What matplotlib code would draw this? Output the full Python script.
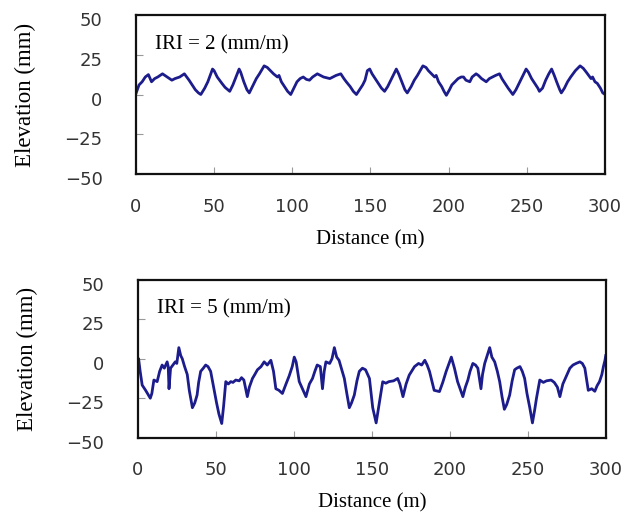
import matplotlib
matplotlib.use("Agg")
import matplotlib.pyplot as plt
import matplotlib.transforms as mtransforms

# =========================================================================================
# dados (perfil de elevacao)
dist_iri2 = [0, 2, 4, 6, 8, 10, 12, 14, 17, 20, 23, 25, 28, 31, 34, 36, 38, 40, 41.5, 44,
             46, 49, 50, 52, 55, 57, 60, 62, 64, 66, 67, 69, 71, 72.5, 75, 77, 79, 82, 84, 86,
             88, 90.5, 91.5, 93, 95, 97, 99, 101, 103, 105, 107, 109, 111, 113, 116, 118, 120,
             122, 124, 126, 128, 131, 133, 134.5, 137, 139, 141, 143, 145, 146.5, 148, 149.5,
             151, 153, 155, 157, 159, 161, 163, 165, 166.5, 168, 170, 172, 173.5, 176, 178, 180,
             183.5, 185.5, 187, 189, 191, 192, 193.5, 195.5, 197, 198.5, 200.5, 202, 204, 206,
             208, 209.5, 211, 213.5, 215, 217.5, 219, 221, 224, 226, 228, 230, 232.5, 234, 236,
             238, 239.5, 241, 243, 245, 247, 249.5, 251, 253, 255, 257, 258, 260, 262, 264,
             265.8, 267.5, 269, 271, 272, 274, 276, 278, 281, 284, 286, 288, 289.5, 291, 292,
             293.5, 295, 297, 298.5, 300]
elev_iri2 = [0.5, 6, 8, 11, 12.5, 8, 10, 11, 13, 11, 9, 10, 11, 13, 9, 6, 3, 1, 0, 4,
             8, 16, 15, 11, 7, 4.5, 2, 6, 11, 16, 14, 8, 3, 1, 6, 10, 13, 18, 17, 15,
             13, 11, 12, 8, 5, 2, 0, 4, 8, 10, 11, 9.5, 9, 11, 13, 12, 11,
             10.5, 10, 11, 12, 13, 10, 8, 5, 2, 0, 3, 6, 9, 15, 16,
             13, 10, 7, 4, 2, 5, 9, 13, 16, 13, 8, 3, 1, 5, 9, 12,
             18, 17, 15, 13, 11, 12, 8, 5, 2, -0.5, 3, 6, 8, 10,
             11, 11, 9, 8, 11, 13, 12, 10, 8, 10, 11, 12, 13, 10, 7,
             4, 2, 0, 3, 7, 11, 16, 14, 10, 7, 4, 2, 4, 9, 13,
             16, 12, 8, 3, 1, 4, 8, 11, 15, 18, 16.5, 14, 12, 10, 11,
             8, 7, 4, 1, 0]

dist_iri5 = [0, 0.5, 1.5, 2.8, 5, 8, 9, 10.3, 12.4, 14, 15.6, 17, 18.8, 19.5, 20, 21, 22.5, 24,
             25, 26.3, 27.5, 28.5, 30, 31.7, 33, 35, 36.5, 38, 39, 40.3, 42, 43.5, 45, 46.7,
             48.8, 50.5, 52, 53.8, 55, 56.4, 58, 59.6, 61, 62.8, 65, 66.5, 68, 70.2, 71.5, 73.5,
             75, 76.7, 79, 81, 83, 85.3, 87, 88.5, 90.5, 92.7, 95, 97, 99, 100.3, 101.5, 103.5,
             106, 107.8, 110, 112, 113.5, 115, 117, 118.4, 119.5, 120.6, 123, 124.5, 126, 127.5,
             129, 130.5, 132.4, 134, 135.6, 137, 138.8, 140.5, 142, 144, 146, 148.5, 150.6,
             152.8, 155, 157, 159, 161, 164, 166.6, 168, 170, 172, 174, 175.5, 177.4, 180, 182,
             184, 185.5, 187, 190, 193.4, 195.5, 197.7, 199.5, 201, 203, 205, 208.4, 210, 211.6,
             213, 214.8, 216.5, 218, 220, 221, 222.4, 224, 225.6, 227, 228.8, 230.5, 232, 233.5,
             235, 236.5, 238.4, 240, 241.6, 243, 245, 246.5, 248, 249.5, 251.3, 253, 254.5,
             255.6, 257.7, 260, 262, 265, 267, 269, 270.6, 272.5, 275, 277, 279, 281, 283.4,
             285, 286.6, 288.8, 291, 293, 294.5, 296, 297.5, 298.5, 299.5, 300]
elev_iri5 = [-3, 0, -8, -16.7, -20, -25, -22, -13.5, -14.5, -8, -4, -6, -2, -5, -19, -6, -4, -2,
             -3, 7, 2, 0, -5, -10, -20, -31, -28, -23, -15, -8, -6, -4, -5, -8,
             -19, -28, -35, -41, -30, -14.5, -16, -14.5, -15, -13.5, -14, -12, -13.5, -24, -18, -12.5,
             -10, -7, -5, -2, -4, -1, -8, -19, -20, -22, -16, -11, -5, 1, -2, -14.5,
             -20, -24, -16, -12.5, -8, -4, -5, -19, -8, -2, -3, 0, 7, 1,
             -1, -6, -12.5, -22, -31, -28, -23, -14, -8, -6, -7, -12.5, -31,
             -40.6, -27, -14.6, -15.5, -14.5, -14, -12.5, -16, -24, -16, -10.4, -8, -5, -3, -4,
             -1, -4, -8, -20, -20.8, -15, -8, -3, 1, -6, -14.5, -24, -18, -13.5,
             -8, -3, -4, -6, -19, -10, -3, 2, 7, 1, -2, -8, -14.5, -24,
             -32, -29, -23, -14, -7, -6, -5, -8, -12.5, -22, -31, -40.6, -32,
             -25, -13.5, -15, -14, -13.5, -15, -18, -24, -16, -10.4, -6, -4, -3, -2,
             -3, -6, -20, -19, -20.6, -17, -14.5, -10, -5, -1, 2]

rotulos_iri = ["IRI = 2 (mm/m)", "IRI = 5 (mm/m)"]
x_ticks = [0, 50, 100, 150, 200, 250, 300]
y_ticks = [-50, -25, 0, 25, 50]

# =========================================================================================
# --- MATPLOTINHO ---
cor_linha = '#1c1c8c'
fonte_serif = 'Liberation Serif'

fig = plt.figure(figsize=(6.41, 5.15), dpi=100)
ax1 = fig.add_axes([0.212, 0.662, 0.732, 0.309])
ax2 = fig.add_axes([0.215, 0.150, 0.730, 0.307])

paineis = [(ax1, dist_iri2, elev_iri2, rotulos_iri[0], 0.81),
           (ax2, dist_iri5, elev_iri5, rotulos_iri[1], 0.815)]

# rotulos do eixo y ficam um pouco abaixo do tick no original
desce = mtransforms.ScaledTranslation(0, -3 / 72, fig.dpi_scale_trans)

for ax, d, e, rot, y_rot in paineis:
    ax.plot(d, e, color=cor_linha, linewidth=2.0)
    ax.set_xlim(0, 300)
    ax.set_ylim(-50, 50)
    ax.set_xticks(x_ticks)
    ax.set_yticks(y_ticks)
    ax.set_yticklabels([str(v).replace('-', '\u2212') for v in y_ticks])
    ax.tick_params(direction='in', length=5, width=0.8, color='#999999',
                   labelsize=13, labelcolor='#333333')
    ax.tick_params(axis='y', pad=24)
    ax.tick_params(axis='x', pad=17)
    for lab in ax.get_xticklabels() + ax.get_yticklabels():
        lab.set_family('DejaVu Sans')
    for lab in ax.get_yticklabels():
        lab.set_transform(lab.get_transform() + desce)
    for sp in ax.spines.values():
        sp.set_linewidth(1.6)
        sp.set_color('#111111')
    ax.set_xlabel("Distance (m)", family=fonte_serif, fontsize=15)
    ax.set_ylabel("Elevation (mm)", family=fonte_serif, fontsize=16.5)
    ax.xaxis.set_label_coords(0.5, -0.35)
    ax.yaxis.set_label_coords(-0.213, 0.5)
    ax.text(0.04, y_rot, rot, transform=ax.transAxes, family=fonte_serif,
            fontsize=15, va='center', ha='left')

plt.savefig("out.png", dpi=100)
